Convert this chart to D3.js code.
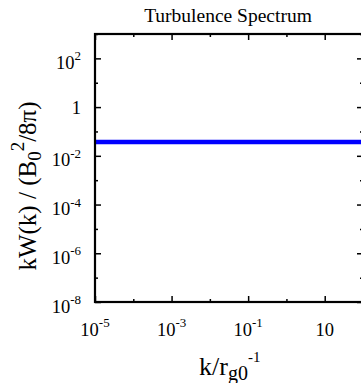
<!DOCTYPE html>
<html><head><meta charset="utf-8">
<script src="https://cdn.jsdelivr.net/npm/d3@7"></script>
<style>
body{margin:0;background:#fff}
svg text{font-family:"Liberation Serif","Times New Roman",serif;fill:#000}
</style>
</head><body>
<svg id="c" width="361" height="383"></svg>
<script>
// ---- data ----
const kValues  = [1e-5, 1e-4, 1e-3, 1e-2, 1e-1, 1, 10, 100];
const spectrum = [0.037, 0.037, 0.037, 0.037, 0.037, 0.037, 0.037, 0.037];
const xMajorTicks = [1e-5, 1e-3, 1e-1, 10];
const xMinorTicks = [1e-4, 1e-2, 1, 100];
const xTickBase = ["10", "10", "10", "10"];
const xTickSup  = ["-5", "-3", "-1", ""];
const yMajorTicks = [1e-8, 1e-6, 1e-4, 1e-2, 1, 100];
const yMinorTicks = [1e-7, 1e-5, 1e-3, 1e-1, 10, 1000];
const yTickBase = ["10", "10", "10", "10", "1", "10"];
const yTickSup  = ["-8", "-6", "-4", "-2", "", "2"];
const xDomain = [1e-5, 1e2];
const yDomain = [1e-8, 1e3];

// ---- layout ----
const L = 95, R = 363, T = 34, B = 302;
const svg = d3.select("#c");
const x = d3.scaleLog().domain(xDomain).range([L, R]);
const y = d3.scaleLog().domain(yDomain).range([B, T]);

svg.append("defs").append("clipPath").attr("id","clip")
  .append("rect").attr("x",L).attr("y",T).attr("width",R-L).attr("height",B-T);

const line = d3.line().x((d,i)=>x(kValues[i])).y(d=>y(d));
svg.append("path").datum(spectrum)
  .attr("clip-path","url(#clip)")
  .attr("d", line).attr("fill","none").attr("stroke","#0000ff").attr("stroke-width",4.5);

function ax(gen, scale, vals, size, tr){
  const g = svg.append("g").attr("transform", tr)
    .call(gen(scale).tickValues(vals).tickSize(size).tickFormat(""));
  g.select(".domain").remove();
  g.selectAll(".tick line").attr("stroke","#000").attr("stroke-width",1.5);
  return g;
}
ax(d3.axisBottom, x, xMajorTicks, -6, `translate(0,${B})`);
ax(d3.axisBottom, x, xMinorTicks, -3, `translate(0,${B})`);
ax(d3.axisTop, x, xMajorTicks, -6, `translate(0,${T})`);
ax(d3.axisTop, x, xMinorTicks, -3, `translate(0,${T})`);
ax(d3.axisLeft, y, yMajorTicks, -6, `translate(${L},0)`);
ax(d3.axisLeft, y, yMinorTicks, -3, `translate(${L},0)`);
ax(d3.axisRight, y, yMajorTicks, -6, `translate(${R},0)`);
ax(d3.axisRight, y, yMinorTicks, -3, `translate(${R},0)`);

svg.append("rect").attr("x",L).attr("y",T).attr("width",R-L).attr("height",B-T)
  .attr("fill","none").attr("stroke","#000").attr("stroke-width",2.2);

xMajorTicks.forEach((v,i)=>{
  const t = svg.append("text").attr("x", x(v)).attr("y", 336)
    .attr("text-anchor","middle").style("font-size","18.5px");
  t.append("tspan").text(xTickBase[i]);
  if (xTickSup[i]) t.append("tspan").attr("dy",-9).style("font-size","13px").text(xTickSup[i]);
});
yMajorTicks.forEach((v,i)=>{
  const t = svg.append("text").attr("x", 81).attr("y", y(v) + (yTickSup[i] ? 10.5 : 7))
    .attr("text-anchor","end").style("font-size","18.5px");
  t.append("tspan").text(yTickBase[i]);
  if (yTickSup[i]) t.append("tspan").attr("dy",-8.5).style("font-size","13px").text(yTickSup[i]);
});

svg.append("text").attr("x",228).attr("y",22).attr("text-anchor","middle")
  .style("font-size","19.5px").text("Turbulence Spectrum");

const xt = svg.append("text").attr("x",199).attr("y",375).style("font-size","26px");
xt.append("tspan").text("k/r");
xt.append("tspan").attr("dy",5).style("font-size","20px").text("g0");
xt.append("tspan").attr("dy",-18).style("font-size","15px").text("-1");

const yt = svg.append("text").attr("transform","translate(36,186) rotate(-90)")
  .attr("text-anchor","middle").style("font-size","25px");
yt.append("tspan").text("kW(k) / (B");
yt.append("tspan").attr("dy",5).style("font-size","19px").text("0");
yt.append("tspan").attr("dy",-17).style("font-size","19px").text("2");
yt.append("tspan").attr("dy",12).text("/8π)");
</script>
</body></html>
